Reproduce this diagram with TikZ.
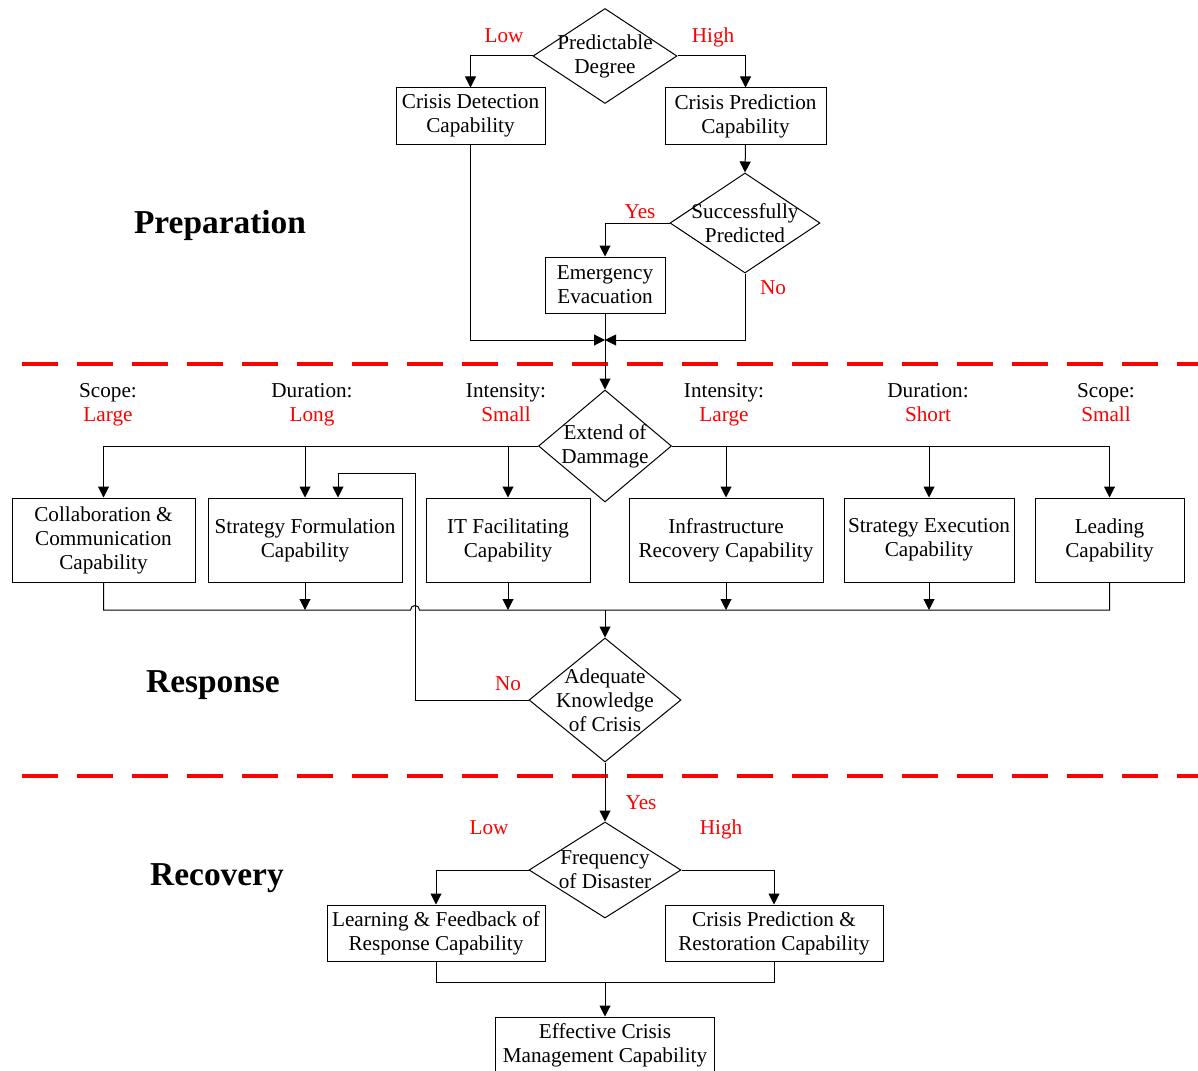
\documentclass[tikz,border=0pt]{standalone}
\usepackage{fontspec}
\setmainfont{Liberation Serif}
\usetikzlibrary{shapes.geometric, arrows.meta, calc}

\begin{document}
\begin{tikzpicture}[x=0.5pt, y=-0.5pt, >={Triangle[length=5.5pt, width=5.5pt]}, line width=0.5pt,
	box/.style={draw, rectangle, inner sep=0pt, align=center, font=\fontsize{10.6}{12}\selectfont},
	dia/.style={draw, diamond, inner sep=0pt},
	txt/.style={align=center, inner sep=0pt, font=\fontsize{10.6}{12}\selectfont},
	hdr/.style={inner sep=0pt, text height=7.4pt, text depth=2.4pt, font=\fontsize{10.6}{12}\selectfont},
	lbl/.style={hdr, text=red},
	stage/.style={inner sep=0pt, text height=11.5pt, text depth=0pt, font=\fontsize{16.7}{20}\selectfont\bfseries},
	sep/.style={red, line width=2pt, dash pattern=on 18pt off 9.5pt}]
	\useasboundingbox (0,0) rectangle (1198,1070);

	% preparation
	\node[dia, minimum width=72pt, minimum height=47.5pt, label={[txt]center:Predictable\\Degree}] (pd) at (605,56) {};
	\node[box, minimum width=74.5pt, minimum height=28pt] (cdc) at (470.5,116) {Crisis Detection\\Capability};
	\node[box, minimum width=80.5pt, minimum height=28pt] (cpc) at (745.5,116) {Crisis Prediction\\Capability};
	\node[dia, minimum width=75pt, minimum height=50pt, label={[txt]center:Successfully\\Predicted}] (sp) at (745,223) {};
	\node[box, minimum width=60pt, minimum height=28pt] (ee) at (605,285) {Emergency\\Evacuation};
	\coordinate (m1) at (605,340);
	\node[stage] (prep) at (220,222) {Preparation};

	\draw[->] (pd.west) -| (cdc.north);
	\draw[->] (pd.east) -| (cpc.north);
	\draw[->] (cpc.south) -- (sp.north);
	\draw[->] (sp.west) -| (ee.north);
	\draw[->] (cdc.south) |- (m1);
	\draw[->] (sp.south) |- (m1);
	\node[lbl] (lo1) at (504,38) {Low};
	\node[lbl] (hi1) at (713,38) {High};
	\node[lbl] (ye1) at (640,213) {Yes};
	\node[lbl] (no1) at (773,289) {No};

	\draw[sep] (22,364) -- (1198,364);

	% response
	\node[dia, minimum width=66.5pt, minimum height=56pt, label={[txt]center:Extend of\\Dammage}] (ed) at (605,446) {};
	\node[box, minimum width=91.5pt, minimum height=42pt] (b1) at (103.5,540) {Collaboration \&\\Communication\\Capability};
	\node[box, minimum width=97pt, minimum height=42pt] (b2) at (305,540) {Strategy Formulation\\Capability};
	\node[box, minimum width=82pt, minimum height=42pt] (b3) at (508,540) {IT Facilitating\\Capability};
	\node[box, minimum width=97pt, minimum height=42pt] (b4) at (726,540) {Infrastructure\\Recovery Capability};
	\node[box, minimum width=85pt, minimum height=42pt] (b5) at (929,540) {Strategy Execution\\Capability};
	\node[box, minimum width=74.5pt, minimum height=42pt] (b6) at (1109.5,540) {Leading\\Capability};
	\node[dia, minimum width=76pt, minimum height=62pt, label={[txt]center:Adequate\\Knowledge\\of Crisis}] (ak) at (605,700) {};
	\coordinate (m2) at (605,610);
	\coordinate (r1) at (415,473);
	\node[stage] (resp) at (213,681) {Response};

	\node[hdr] (t1) at (108,392) {Scope:};
	\node[lbl] (v1) at (108,416) {Large};
	\node[hdr] (t2) at (312,392) {Duration:};
	\node[lbl] (v2) at (312,416) {Long};
	\node[hdr] (t3) at (506,392) {Intensity:};
	\node[lbl] (v3) at (506,416) {Small};
	\node[hdr] (t4) at (724,392) {Intensity:};
	\node[lbl] (v4) at (724,416) {Large};
	\node[hdr] (t5) at (928,392) {Duration:};
	\node[lbl] (v5) at (928,416) {Short};
	\node[hdr] (t6) at (1106,392) {Scope:};
	\node[lbl] (v6) at (1106,416) {Small};

	\draw[->] (ee.south) -- (ed.north);
	\draw[->] (ed.west) -| (b1.north);
	\draw[->] (ed.east) -| (b6.north);
	\foreach \b in {b2, b3}
		\draw[->] (\b.north |- ed.west) -- (\b.north);
	\foreach \b in {b4, b5}
		\draw[->] (\b.north |- ed.east) -- (\b.north);
	\draw (b1.south) |- ($(r1 |- m2)+(-4.5,0)$) arc[start angle=180, end angle=0, radius=2.25pt] -- (b6.south |- m2) -- (b6.south);
	\foreach \b in {b2, b3, b4, b5}
		\draw[->] (\b.south) -- (\b.south |- m2);
	\draw[->] (m2) -- (ak.north);
	\draw[->] (ak.west) -| (r1) -| ($(b2.north)+(33,0)$);
	\node[lbl] (no2) at (508,685) {No};

	\draw[sep] (22,776) -- (1198,776);

	% recovery
	\node[dia, minimum width=76pt, minimum height=48pt, label={[txt]center:Frequency\\of Disaster}] (fd) at (605,870) {};
	\node[box, minimum width=109pt, minimum height=28pt] (lf) at (436,933) {Learning \& Feedback of\\Response Capability};
	\node[box, minimum width=109pt, minimum height=28pt] (cr) at (774,933) {Crisis Prediction \&\\Restoration Capability};
	\node[box, minimum width=109.5pt, minimum height=28pt] (ec) at (605,1045) {Effective Crisis\\Management Capability};
	\coordinate (m3) at (605,982);
	\node[stage] (reco) at (217,874) {Recovery};

	\draw[->] (ak.south) -- (fd.north);
	\draw[->] (fd.west) -| (lf.north);
	\draw[->] (fd.east) -| (cr.north);
	\draw (lf.south) |- (cr.south |- m3) -- (cr.south);
	\draw[->] (m3) -- (ec.north);
	\node[lbl] (ye2) at (641,804) {Yes};
	\node[lbl] (lo2) at (489,829) {Low};
	\node[lbl] (hi2) at (721,829) {High};
\end{tikzpicture}
\end{document}
